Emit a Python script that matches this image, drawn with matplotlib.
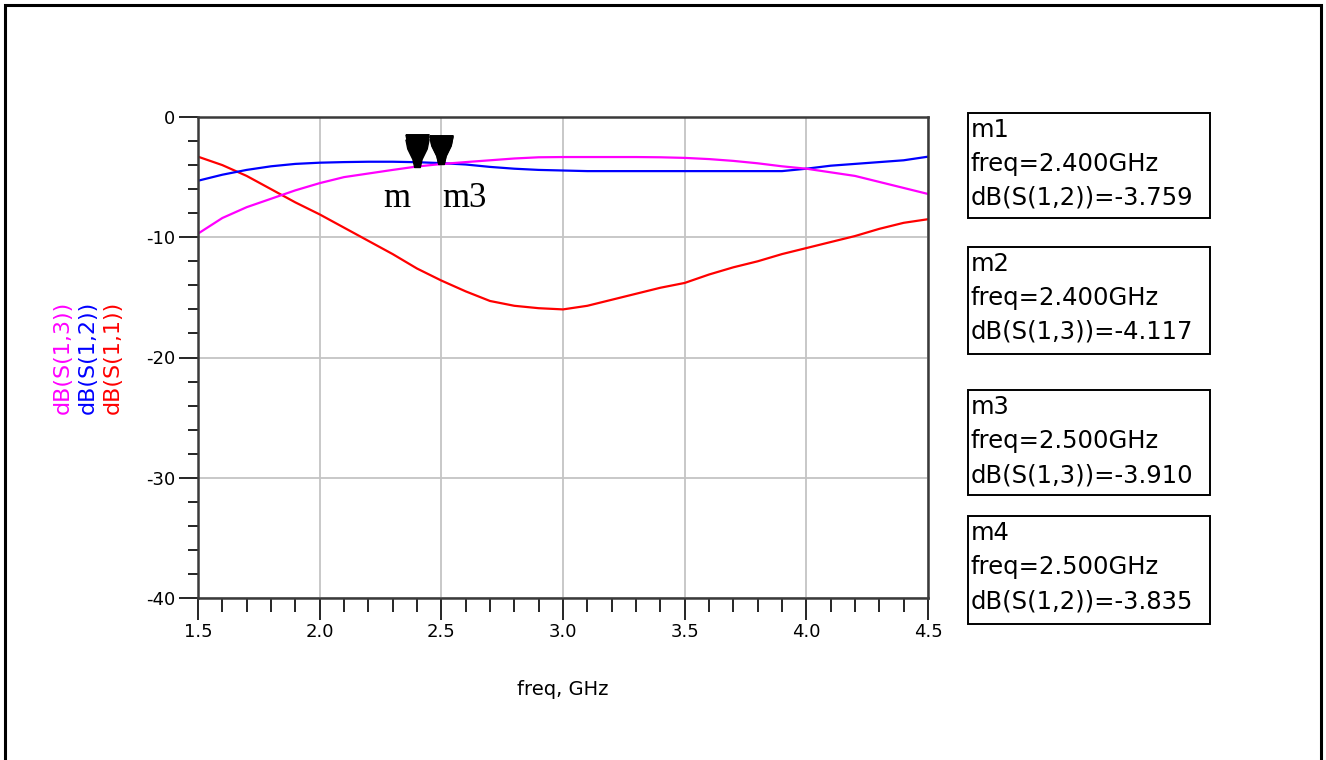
import matplotlib
matplotlib.use("Agg")
import matplotlib.pyplot as plt
from matplotlib.patches import Rectangle
from matplotlib.path import Path
from matplotlib.ticker import MultipleLocator

W, H = 1326, 760

# sweep points (GHz)
freq = [1.5, 1.6, 1.7, 1.8, 1.9, 2.0, 2.1, 2.2, 2.3, 2.4, 2.5,
        2.6, 2.7, 2.8, 2.9, 3.0, 3.1, 3.2, 3.3, 3.4, 3.5,
        3.6, 3.7, 3.8, 3.9, 4.0, 4.1, 4.2, 4.3, 4.4, 4.5]
s11 = [-3.3, -4.0, -4.9, -6.0, -7.1, -8.1, -9.2, -10.3, -11.4, -12.6, -13.6,
       -14.5, -15.3, -15.7, -15.9, -16.0, -15.7, -15.2, -14.7, -14.2, -13.8,
       -13.1, -12.5, -12.0, -11.4, -10.9, -10.4, -9.9, -9.3, -8.8, -8.5]
s12 = [-5.3, -4.8, -4.4, -4.1, -3.9, -3.8, -3.75, -3.72, -3.72, -3.759, -3.835,
       -3.95, -4.15, -4.3, -4.4, -4.45, -4.5, -4.5, -4.5, -4.5, -4.5,
       -4.5, -4.5, -4.5, -4.5, -4.3, -4.05, -3.9, -3.75, -3.6, -3.3]
s13 = [-9.7, -8.4, -7.5, -6.8, -6.1, -5.5, -5.0, -4.7, -4.4, -4.117, -3.91,
       -3.75, -3.6, -3.45, -3.35, -3.33, -3.33, -3.33, -3.33, -3.35, -3.4,
       -3.5, -3.65, -3.85, -4.1, -4.3, -4.6, -4.9, -5.4, -5.9, -6.4]

# markers: name, freq, trace name, value
mk_names = ["m1", "m2", "m3", "m4"]
mk_freq = [2.400, 2.400, 2.500, 2.500]
mk_trace = ["dB(S(1,2))", "dB(S(1,3))", "dB(S(1,3))", "dB(S(1,2))"]
mk_val = [-3.759, -4.117, -3.910, -3.835]

fig = plt.figure(figsize=(W / 100, H / 100), dpi=100)


def fx(x):
    return x / W


def fy(y):
    return 1 - y / H


# outer frame (bottom edge runs off the picture)
fig.patches.append(Rectangle((fx(5), fy(790)), fx(1321) - fx(5), fy(5) - fy(790),
                             transform=fig.transFigure, fill=False,
                             edgecolor="black", linewidth=2.2))

ax = fig.add_axes([fx(198), fy(598), fx(928) - fx(198), fy(117) - fy(598)])
ax.plot(freq, s11, color="#ff0000", lw=1.6)
ax.plot(freq, s12, color="#0000ff", lw=1.6)
ax.plot(freq, s13, color="#ff00ff", lw=1.6)

ax.set_xlim(1.5, 4.5)
ax.set_ylim(-40, 0)
ax.xaxis.set_major_locator(MultipleLocator(0.5))
ax.xaxis.set_minor_locator(MultipleLocator(0.1))
ax.yaxis.set_major_locator(MultipleLocator(10))
ax.yaxis.set_minor_locator(MultipleLocator(2))
ax.xaxis.set_major_formatter(plt.FormatStrFormatter("%.1f"))
ax.yaxis.set_major_formatter(plt.FormatStrFormatter("%d"))
ax.grid(True, which="major", color="#c4c4c4", lw=1.3)
for sp in ax.spines.values():
    sp.set_color("#3a3a3a")
    sp.set_linewidth(1.8)

ax.tick_params(axis="y", which="major", direction="out", length=13.5, width=1.2,
               pad=3, labelsize=13)
ax.tick_params(axis="y", which="minor", direction="out", length=7, width=1.2)
ax.tick_params(axis="x", which="major", direction="out", length=16, width=1.2,
               pad=2, labelsize=13)
ax.tick_params(axis="x", which="minor", direction="out", length=10, width=1.2)

# marker triangles, tip sitting on the trace
tri = Path([(-0.5, 1.2), (0.5, 1.2), (0.42, 0.8), (0.2, 0.35), (0.12, 0.0),
            (-0.12, 0.0), (-0.2, 0.35), (-0.42, 0.8), (-0.5, 1.2)])
ax.plot(mk_freq, mk_val, ls="none", marker=tri, ms=40, color="black",
        clip_on=False, zorder=5)
ax.text(2.318, -7.5, "m", family="Liberation Serif", fontsize=25,
        ha="center", va="baseline")
ax.text(2.503, -7.5, "m3", family="Liberation Serif", fontsize=25,
        ha="left", va="baseline")

ax.set_xlabel("freq, GHz", fontsize=14, labelpad=28)

# stacked y labels
ylab_txt = ["dB(S(1,3))", "dB(S(1,2))", "dB(S(1,1))"]
ylab_col = ["#ff00ff", "#0000ff", "#ff0000"]
ylab_x = [63, 88, 113]
for t, c, x in zip(ylab_txt, ylab_col, ylab_x):
    fig.text(fx(x), fy(357), t, color=c, rotation=90, fontsize=16,
             ha="center", va="center")

# marker readout boxes
box_top = [113, 247, 390, 516]
box_bot = [218, 354, 495, 624]
for name, f, tr, v, t, b in zip(mk_names, mk_freq, mk_trace, mk_val, box_top, box_bot):
    fig.patches.append(Rectangle((fx(968), fy(b)), fx(1210) - fx(968), fy(t) - fy(b),
                                 transform=fig.transFigure, fill=False,
                                 edgecolor="black", linewidth=1.4))
    lines = [name, "freq=%.3fGHz" % f, "%s=%.3f" % (tr, v)]
    for i, s in enumerate(lines):
        fig.text(fx(971), fy(t + 17 + 34 * i), s, fontsize=17.5,
                 ha="left", va="center")

fig.savefig("out.png", dpi=100)
